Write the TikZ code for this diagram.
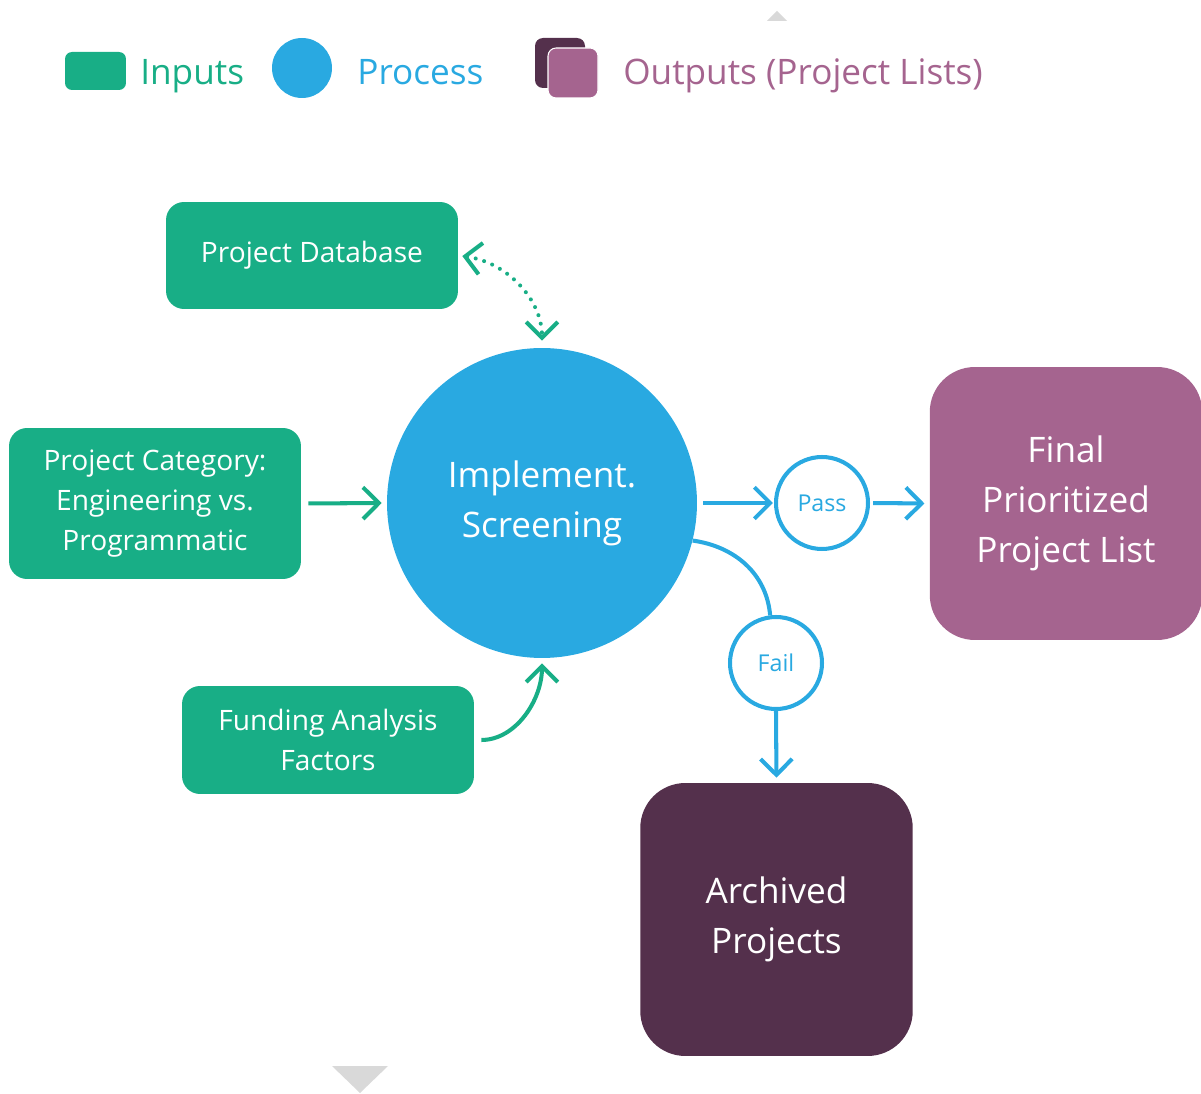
\documentclass[tikz,border=0pt]{standalone}
\usepackage{fontspec}
\setmainfont{Open Sans}
\usetikzlibrary{arrows.meta}
%% Colours
\definecolor{ingreen}{HTML}{18AE86}
\definecolor{procblue}{HTML}{29A9E1}
\definecolor{outpurple}{HTML}{A5648F}
\definecolor{archpurple}{HTML}{54304C}
\definecolor{markgray}{HTML}{D9D9D9}
%% Styles
\tikzset{
  inbox/.style={fill=ingreen, rounded corners=0.36cm, text=white, align=center,
    minimum width=5.84cm, inner sep=0pt, font=\fontsize{16}{22.8}\selectfont},
  outbox/.style={rounded corners=0.9cm, text=white, align=center, inner sep=0pt,
    minimum width=5.45cm, minimum height=5.46cm, font=\fontsize{20}{28.4}\selectfont},
  decision/.style={circle, draw=procblue, line width=2.3pt, fill=white, text=procblue,
    minimum size=1.84cm, inner sep=0pt, font=\fontsize{13.2}{16}\selectfont},
  legtext/.style={anchor=base west, inner sep=0pt, font=\fontsize{20}{24}\selectfont},
  flow/.style={->, line width=2.3pt},
}
\begin{document}
\begin{tikzpicture}[x=0.02cm, y=-0.02cm, >={Straight Barb[length=9pt,width=18pt]}, line join=round]
			%% Khung
			\useasboundingbox (0,0) rectangle (1201,1094);
			%% Legend
			\node [fill=ingreen, rounded corners=0.14cm, minimum width=1.22cm, minimum height=0.76cm, inner sep=0pt] (keyin) at (95.5,71) {};
			\node [legtext, text=ingreen] (keyintext) at (140,85) {Inputs};
			\node [circle, fill=procblue, minimum size=1.2cm, inner sep=0pt] (keyproc) at (302,68) {};
			\node [legtext, text=procblue] (keyproctext) at (357,85) {Process};
			\node [fill=archpurple, rounded corners=0.16cm, minimum size=1cm, inner sep=0pt] (keyarch) at (560,63) {};
			\node [fill=outpurple, draw=white, line width=0.6pt, rounded corners=0.16cm, minimum size=1cm, inner sep=0pt] (keyout) at (573,73) {};
			\node [legtext, text=outpurple] (keyouttext) at (623,85) {Outputs (Project Lists)};
			%% Page marks
			\fill [markgray] (767,21) -- (787,21) -- (777,11) -- cycle;
			\fill [markgray] (332,1066) -- (388,1066) -- (360,1093) -- cycle;
			%% Inputs
			\node [inbox, minimum height=2.14cm] (db) at (312,255.5) {Project Database};
			\node [inbox, minimum height=3.02cm] (cat) at (155,503.5) {Project Category:\\Engineering vs.\\Programmatic};
			\node [inbox, minimum height=2.16cm] (fund) at (328,740) {Funding Analysis\\Factors};
			%% Process
			\node [circle, fill=procblue, text=white, align=center, minimum size=6.2cm, inner sep=0pt,
			font=\fontsize{20}{28.4}\selectfont] (proc) at (542,503) {Implement.\\Screening};
			\node [decision] (pass) at (822,503) {Pass};
			\node [decision] (fail) at (776,663) {Fail};
			%% Outputs
			\node [outbox, fill=outpurple] (final) at (1066,503.5) {Final\\Prioritized\\Project List};
			\node [outbox, fill=archpurple] (arch) at (776.5,919.5) {Archived\\Projects};
			%% Connectors
			\draw [ingreen, <->, line width=2.3pt, line cap=round, dash pattern=on 0pt off 5pt,
			shorten <=0.08cm, shorten >=0.14cm] (db.east) to [out=-8, in=90] (proc.north);
			\draw [ingreen, flow, shorten <=0.14cm, shorten >=0.1cm] (cat.east) -- (proc.west);
			\draw [ingreen, flow, shorten <=0.14cm, shorten >=0.1cm] (fund.east) to [out=0, in=-90] (proc.south);
			\draw [procblue, flow, shorten <=0.12cm, shorten >=0.02cm] (proc.east) -- (pass.west);
			\draw [procblue, flow, shorten <=0.06cm, shorten >=0.1cm] (pass.east) -- (final.west);
			\draw [procblue, line width=2.3pt] (proc.-14) to [out=-8, in=95] (fail.97);
			\draw [procblue, flow, shorten >=0.1cm] (fail.south) -- (arch.north);
		\end{tikzpicture}
\end{document}
